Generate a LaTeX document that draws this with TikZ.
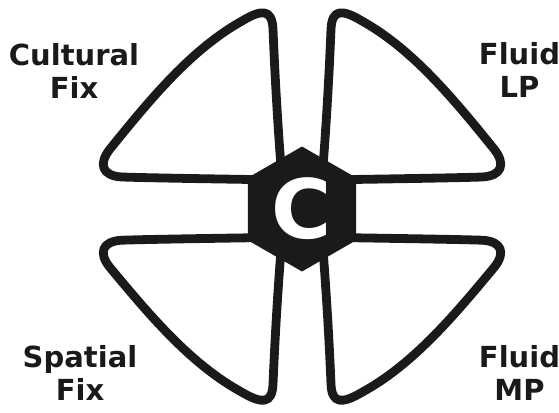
\documentclass[tikz,border=0pt]{standalone}
\usepackage{fontspec}
\setmainfont{DejaVu Sans}
\usetikzlibrary{shapes.geometric}
\definecolor{ink}{HTML}{1A1A1A}

\begin{document}
\begin{tikzpicture}[x=1pt,y=-1pt,
        petal/.style={draw=ink,line width=8.8pt,line join=round},
        hexhub/.style={regular polygon,regular polygon sides=6,shape border rotate=30,
            minimum size=125pt,inner sep=0pt,fill=ink,text=white,
            font=\bfseries\fontsize{82}{82}\selectfont},
        corner/.style={align=center,text=ink,inner sep=0pt,
            font=\bfseries\fontsize{29}{33}\selectfont}]
        % image is 559 x 412, hub of the four loops at (302,209)
        \useasboundingbox (0,0) rectangle (559,412);
        \coordinate (hub) at (302,209);

        % one loop per quadrant, drawn in the top-left and mirrored
        \foreach \sx/\sy in {1/1,-1/1,1/-0.975,-1/-0.975} {
            \begin{scope}[shift={(hub)},xscale=\sx,yscale=\sy]
                \draw[petal] (-20,-29) .. controls (-80,-30) and (-150,-31) .. (-180,-32)
                    .. controls (-200,-33) and (-204,-45) .. (-192,-60)
                    .. controls (-150,-112) and (-110,-160) .. (-60,-188)
                    .. controls (-40,-200) and (-30,-200) .. (-29,-180)
                    .. controls (-27,-130) and (-24,-80) .. (-20,-29) -- cycle;
            \end{scope}
        }

        \node[hexhub] (hex) at (hub) {C};

        \node[corner] (cultural) at (74,70.5) {Cultural\\Fix};
        \node[corner] (fluidlp) at (519.5,69.5) {Fluid\\LP};
        \node[corner] (spatial) at (80,373) {Spatial\\Fix};
        \node[corner] (fluidmp) at (519.5,373) {Fluid\\MP};
    \end{tikzpicture}
\end{document}
